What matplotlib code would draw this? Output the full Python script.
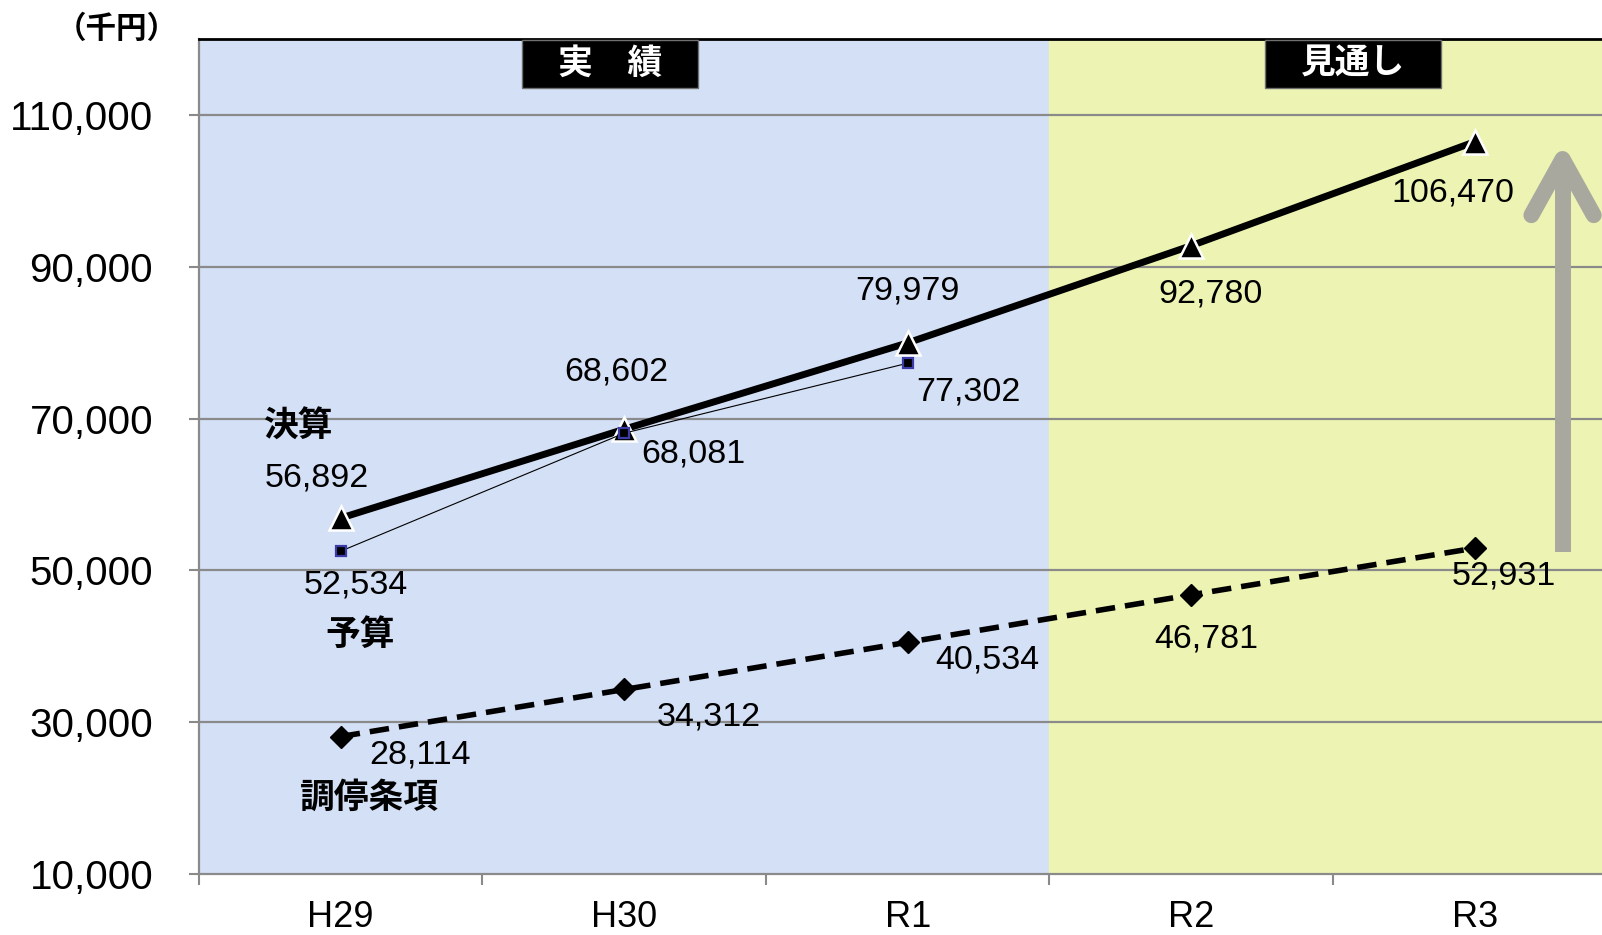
import matplotlib
matplotlib.use("Agg")
import matplotlib.pyplot as plt
from matplotlib.patches import Rectangle

plt.rcParams['font.family'] = ['Liberation Sans', 'Noto Sans CJK JP', 'DejaVu Sans']

# data
years = ['H29', 'H30', 'R1', 'R2', 'R3']
kessan = [56892, 68602, 79979, 92780, 106470]      # 決算
yosan = [52534, 68081, 77302]                      # 予算
chotei = [28114, 34312, 40534, 46781, 52931]       # 調停条項
yticks = [10000, 30000, 50000, 70000, 90000, 110000]

# label offsets in points (dx, dy)
kessan_off = [(-17, 29), (-6, 41), (0, 37), (14, -35), (-16, -37)]
yosan_off = [(11, -24), (50, -15), (44, -21)]
chotei_off = [(57, -13), (61, -20), (57, -13), (11, -32), (21, -20)]

x = list(range(len(years)))

fig = plt.figure(figsize=(16.02, 9.35), dpi=100)
ax = fig.add_axes([0.1242, 0.0652, 0.8848, 0.893])

ax.set_xlim(-0.5, 4.5)
ax.set_ylim(10000, 120000)

# background: actual (blue) / forecast (yellow)
ax.axvspan(-0.5, 2.5, color='#d4e0f6', zorder=0)
ax.axvspan(2.5, 4.5, color='#edf4b3', zorder=0)

for y in yticks[1:]:
    ax.axhline(y, color='#8a8a8a', lw=1.6, zorder=1)

# gray arrow on the right
arrow_c = '#a8a89e'
ax.plot([4.31, 4.31], [52400, 103000], color=arrow_c, lw=11.5, solid_capstyle='butt', zorder=2)
ax.plot([4.2, 4.31, 4.42], [96800, 104200, 96800], color=arrow_c, lw=11.5,
        solid_capstyle='round', solid_joinstyle='round', zorder=2)

ax.plot(x, kessan, color='black', lw=5, marker='^', ms=17, mfc='black',
        mec='white', mew=1.8, zorder=4)
ax.plot(x[:3], yosan, color='black', lw=0.8, marker='s', ms=7, mfc='black',
        mec='#3c3ca8', mew=1.6, zorder=5)
ax.plot(x, chotei, color='black', lw=4, ls=(0, (3.5, 1.8)), marker='D', ms=11,
        mfc='black', mec='black', zorder=4)

def labels(vals, offs):
    for i, (v, o) in enumerate(zip(vals, offs)):
        ax.annotate(f'{v:,}', (x[i], v), xytext=o, textcoords='offset points',
                    ha='center', va='center', fontsize=24.5, color='black', zorder=6)

labels(kessan, kessan_off)
labels(yosan, yosan_off)
labels(chotei, chotei_off)

# series names
ax.text(-0.151, 68930, '決算', fontsize=25, fontweight='bold', ha='center', va='center', zorder=6)
ax.text(0.068, 41380, '予算', fontsize=25, fontweight='bold', ha='center', va='center', zorder=6)
ax.text(0.10, 20020, '調停条項', fontsize=25, fontweight='bold', ha='center', va='center', zorder=6)

# header boxes
for cx, txt in [(0.95, '実　績'), (3.57, '見通し')]:
    ax.add_patch(Rectangle((cx - 0.31, 113600), 0.62, 6300, facecolor='black',
                           edgecolor='#707070', lw=1, zorder=6, clip_on=False))
    ax.text(cx, 116750, txt, color='white', fontsize=25, fontweight='bold',
            ha='center', va='center', zorder=7)

# axes styling
ax.set_yticks(yticks)
ax.set_yticklabels([f'{v:,}' for v in yticks], fontsize=29)
ax.set_xticks([i - 0.5 for i in range(6)])
ax.set_xticklabels([])
ax.set_xticks(x, minor=True)
ax.set_xticklabels(years, minor=True, fontsize=26)
ax.tick_params(axis='x', which='major', length=8, width=1.5, color='#8a8a8a', direction='out')
ax.tick_params(axis='x', which='minor', length=0, pad=19)
ax.tick_params(axis='y', length=7, width=1.5, color='#8a8a8a', pad=26)

ax.spines['top'].set_color('black')
ax.spines['top'].set_linewidth(2)
ax.spines['right'].set_visible(False)
for s in ['left', 'bottom']:
    ax.spines[s].set_color('#8a8a8a')
    ax.spines[s].set_linewidth(1.6)

fig.text(117 / 1602, 1 - 29 / 935, '（千円）', fontsize=22, fontweight='bold',
         family='Noto Sans CJK JP', ha='center', va='center')

fig.savefig('out.png', dpi=100)
